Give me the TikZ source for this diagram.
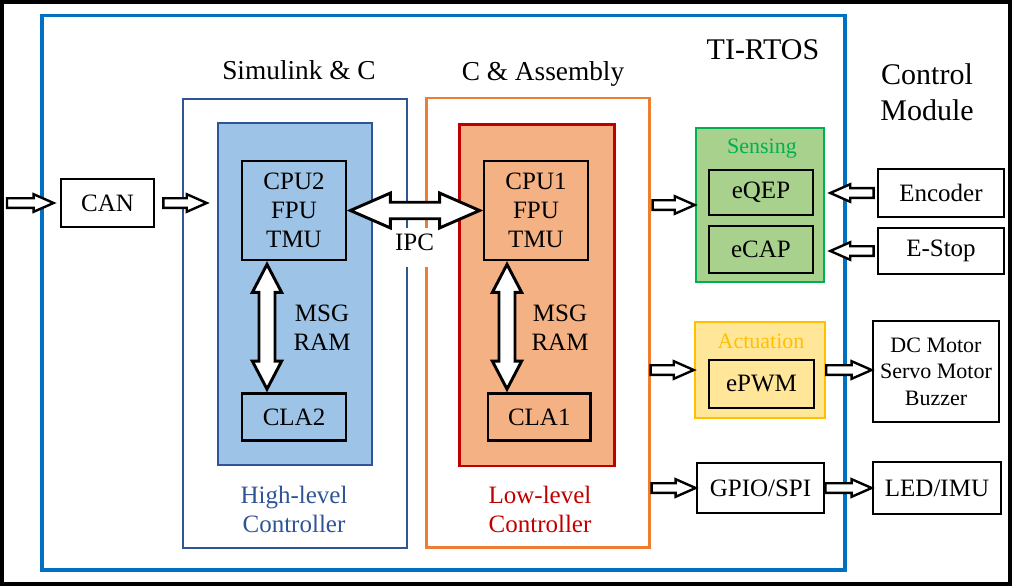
\documentclass[tikz,border=0pt]{standalone}
\usepackage{fontspec}
\setmainfont{Liberation Serif}
\usepackage{tikz}
\usetikzlibrary{calc,fit,positioning}

\definecolor{rtosblue}{HTML}{0070C0}
\definecolor{hlblue}{HTML}{2F5597}
\definecolor{hlfill}{HTML}{9DC3E6}
\definecolor{llorange}{HTML}{ED7D31}
\definecolor{llred}{HTML}{C00000}
\definecolor{llfill}{HTML}{F4B183}
\definecolor{sensgreen}{HTML}{00B050}
\definecolor{sensfill}{HTML}{A9D18E}
\definecolor{actyellow}{HTML}{FFC000}
\definecolor{actfill}{HTML}{FFE699}

\newcommand{\fmain}{\fontsize{18.75}{21.75}\selectfont}
\newcommand{\fsmall}{\fontsize{16.5}{20}\selectfont}
\newcommand{\ftitle}{\fontsize{20.5}{24}\selectfont}
\newcommand{\fbig}{\fontsize{22.5}{27}\selectfont}

\tikzset{
  arrow body/.store in=\arrowbody,
  arrow head/.store in=\arrowhead,
  arrow len/.store in=\arrowlen,
  arrow body=3.6pt, arrow head=6.6pt, arrow len=15pt,
  hollow/.style={draw, fill=white, line width=1.8pt, line join=miter,
    to path={let \p1=($(\tikztotarget)-(\tikztostart)$),
      \n1={veclen(\x1,\y1)}, \n2={atan2(\y1,\x1)} in
      {[shift={(\tikztostart)}, rotate=\n2]
      (0pt,\arrowbody) -- ({\n1-\arrowlen},\arrowbody) -- ({\n1-\arrowlen},\arrowhead)
      -- ({\n1+0pt},0pt) -- ({\n1-\arrowlen},-\arrowhead) -- ({\n1-\arrowlen},-\arrowbody)
      -- (0pt,-\arrowbody) -- cycle}}},
  dblhollow/.style={draw, fill=white, line width=1.7pt, line join=miter,
    to path={let \p1=($(\tikztotarget)-(\tikztostart)$),
      \n1={veclen(\x1,\y1)}, \n2={atan2(\y1,\x1)} in
      {[shift={(\tikztostart)}, rotate=\n2]
      (0pt,0pt) -- (\arrowlen,\arrowhead) -- (\arrowlen,\arrowbody)
      -- ({\n1-\arrowlen},\arrowbody) -- ({\n1-\arrowlen},\arrowhead)
      -- ({\n1+0pt},0pt) -- ({\n1-\arrowlen},-\arrowhead) -- ({\n1-\arrowlen},-\arrowbody)
      -- (\arrowlen,-\arrowbody) -- (\arrowlen,-\arrowhead) -- cycle}}},
}

\begin{document}
\begin{tikzpicture}[x=0.75pt, y=-0.75pt,
    outerframe/.style={draw=black, line width=3pt},
    rtosbox/.style={draw=rtosblue, line width=2.6pt, inner sep=0pt},
    hlbox/.style={draw=hlblue, line width=1.7pt, inner sep=0pt},
    hlinner/.style={draw=hlblue, fill=hlfill, line width=1.9pt, inner sep=0pt},
    llbox/.style={draw=llorange, line width=1.7pt, inner sep=0pt},
    llinner/.style={draw=llred, fill=llfill, line width=1.9pt, inner sep=0pt},
    sensbox/.style={draw=sensgreen, fill=sensfill, line width=1.9pt, inner sep=0pt},
    actbox/.style={draw=actyellow, fill=actfill, line width=1.9pt, inner sep=0pt},
    box/.style={draw=black, line width=2.1pt, font=\fmain, align=center, inner sep=1pt},
    ctrltext/.style={font=\fmain, align=center},
    headtext/.style={font=\ftitle, anchor=base},
    bigtext/.style={font=\fbig, align=center},
    grouptext/.style={font=\fsmall, anchor=base}
]
\useasboundingbox (0,0) rectangle (1024,588);

% Outer frame and TI-RTOS
\draw[outerframe] (2,2) rectangle (1010,584);
\node[rtosbox, fit={(42,15.5) (845,570)}] (rtos) {};
\node[bigtext, anchor=base] (rtoslbl) at (763,60) {TI-RTOS};
\node[bigtext] (ctrlmod) at (927,92) {Control\\Module};

% High-level controller
\node[hlbox, fit={(183,99) (407,548)}] (hl) {};
\node[hlinner, fit={(218,123) (372,465)}] (hlin) {};
\node[headtext] (simlbl) at (299,80) {Simulink \& C};
\node[box, minimum width=78pt, minimum height=74.25pt] (cpu2) at (294,210.5) {CPU2\\FPU\\TMU};
\node[box, minimum width=78pt, minimum height=35.25pt] (cla2) at (294,417) {CLA2};
\node[ctrltext] (msg2) at (322,328) {MSG\\RAM};
\node[ctrltext, text=hlblue] (hllbl) at (294,509) {High-level\\Controller};

% Low-level controller
\node[llbox, fit={(426.5,98) (649.5,547.5)}] (ll) {};
\node[llinner, fit={(459.5,124.5) (614.5,466)}] (llin) {};
\node[headtext] (asmlbl) at (543,81) {C \& Assembly};
\node[box, minimum width=78pt, minimum height=74.25pt] (cpu1) at (536,210.5) {CPU1\\FPU\\TMU};
\node[box, minimum width=76.9pt, minimum height=35.25pt] (cla1) at (539.25,417) {CLA1};
\node[ctrltext] (msg1) at (560,328) {MSG\\RAM};
\node[ctrltext, text=llred] (lllbl) at (540,509) {Low-level\\Controller};

% IPC label
\node[ctrltext, fill=white, anchor=base, inner xsep=1pt, inner ysep=3.75pt, text depth=9pt] (ipc) at (414.5,250) {IPC};

% CAN input
\coordinate (canin) at (7,203);
\node[box, minimum width=69.75pt, minimum height=36pt] (can) at (107.5,203) {CAN};

% Sensing
\node[sensbox, fit={(696,128) (824,282)}] (sens) {};
\node[grouptext, text=sensgreen] (senslbl) at (762,154) {Sensing};
\node[box, minimum width=78pt, minimum height=33.75pt] (eqep) at (761,192.5) {eQEP};
\node[box, minimum width=78pt, minimum height=35.25pt] (ecap) at (761,249.5) {eCAP};

% Actuation
\node[actbox, fit={(695,322) (825,418)}] (act) {};
\node[grouptext, text=actyellow] (actlbl) at (761,348) {Actuation};
\node[box, minimum width=78.75pt, minimum height=36pt] (epwm) at (761.5,384) {ePWM};
\node[box, minimum width=95.25pt, minimum height=37.5pt] (gpio) at (760.5,488) {GPIO/SPI};

% Control module
\node[box, minimum width=94.5pt, minimum height=36pt] (enc) at (941,193) {Encoder};
\node[box, minimum width=94.5pt, minimum height=34.5pt] (estop) at (941,251) {E-Stop};
\node[box, font=\fsmall, minimum width=94.5pt, minimum height=75.75pt] (dc) at (936,371.5) {DC Motor\\Servo Motor\\Buzzer};
\node[box, minimum width=96pt, minimum height=39pt] (led) at (937,488) {LED/IMU};

% Arrows - CAN path
\draw[hollow] (canin) to ($(can.west)+(-6,0)$);
\draw[hollow] ($(can.east)+(8,0)$) to ($(can.east -| hlin.west)+(-10,0)$);

% Arrows - IPC and message RAM
\draw[dblhollow, line width=2.2pt, arrow body=6.2pt, arrow head=13.1pt, arrow len=30pt] ($(cpu2.east)+(3,0)$) to ($(cpu1.west)+(-3,0)$);
\draw[dblhollow, line width=2.2pt, arrow body=6pt, arrow head=11pt, arrow len=21pt] ($(cpu2.south)+(-27,3)$) to ($(cla2.north)+(-27,-3)$);
\draw[dblhollow, line width=2.2pt, arrow body=6pt, arrow head=11pt, arrow len=21pt] ($(cpu1.south)+(-29,3)$) to ($(cla1.north)+(-32.25,-3)$);

% Arrows - peripherals
\draw[hollow] ($(sens.west -| ll.east)+(2,0)$) to (sens.west);
\draw[hollow] (act.west -| ll.east) to (act.west);
\draw[hollow] ($(gpio.west -| ll.east)+(1,0)$) to (gpio.west);
\draw[hollow] (act.east) to (act.east -| dc.west);
\draw[hollow] (gpio.east) to (gpio.east -| led.west);
\draw[hollow] ($(enc.west)+(-3,0)$) to ($(enc.west -| sens.east)+(5,0)$);
\draw[hollow] ($(estop.west)+(-3,0)$) to ($(estop.west -| sens.east)+(5,0)$);

\end{tikzpicture}
\end{document}
